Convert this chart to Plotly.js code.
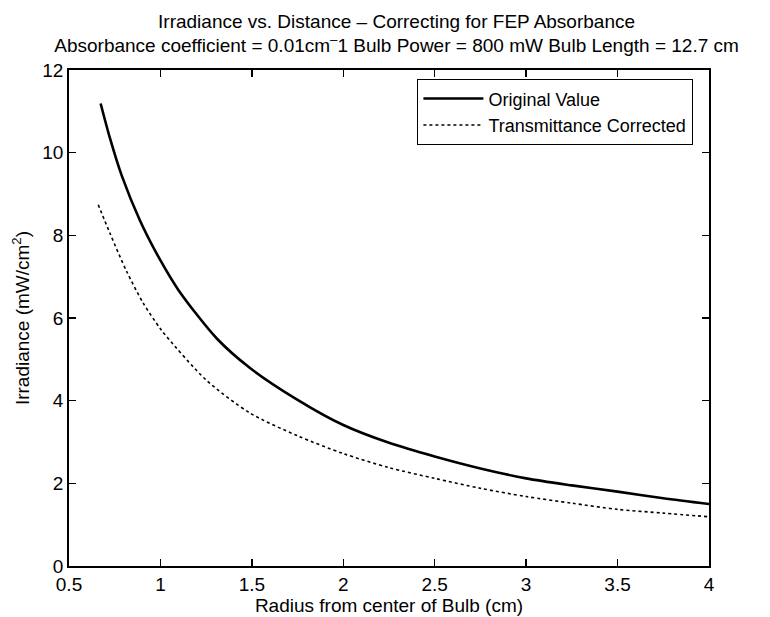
<!DOCTYPE html>
<html>
<head>
<meta charset="utf-8">
<script src="https://cdn.plot.ly/plotly-3.0.1.min.js"></script>
<style>html,body{margin:0;padding:0;background:#fff;}#chart{width:770px;height:617px;}</style>
</head>
<body>
<div id="chart"></div>
<script>
const originalX = [0.673, 0.724, 0.788, 0.888, 0.998, 1.098, 1.307, 1.49, 1.75, 2.0, 2.25, 2.5, 2.75, 3.0, 3.25, 3.5, 3.75, 4.0];
const originalY = [11.19, 10.35, 9.45, 8.36, 7.41, 6.68, 5.51, 4.79, 4.02, 3.41, 2.98, 2.65, 2.36, 2.12, 1.95, 1.80, 1.64, 1.50];
const correctedX = [0.66, 0.724, 0.815, 0.906, 0.998, 1.034, 1.25, 1.49, 1.75, 2.0, 2.25, 2.5, 2.75, 3.0, 3.25, 3.5, 3.75, 4.0];
const correctedY = [8.74, 8.05, 7.13, 6.36, 5.75, 5.55, 4.5, 3.70, 3.15, 2.72, 2.38, 2.12, 1.88, 1.68, 1.52, 1.37, 1.28, 1.19];
const xTicks = [0.5, 1, 1.5, 2, 2.5, 3, 3.5, 4];
const yTicks = [0, 2, 4, 6, 8, 10, 12];

const font = 'Liberation Sans, Arial, sans-serif';
const traces = [
  {x: originalX, y: originalY, name: 'Original Value', mode: 'lines',
   line: {color: '#000', width: 2.6, shape: 'spline', smoothing: 0.8}},
  {x: correctedX, y: correctedY, name: 'Transmittance Corrected', mode: 'lines',
   line: {color: '#000', width: 1.6, dash: 'dot', shape: 'spline', smoothing: 0.8}}
];
const axisCommon = {showline: true, linecolor: '#000', linewidth: 1.8, mirror: 'ticks',
  ticks: 'inside', ticklen: 7, tickcolor: '#000', tickwidth: 1.4, showgrid: false, zeroline: false,
  tickfont: {family: font, size: 19, color: '#000'}};
const layout = {
  width: 770, height: 617,
  margin: {l: 69, r: 61, t: 70, b: 51},
  paper_bgcolor: '#fff', plot_bgcolor: '#fff',
  font: {family: font, color: '#000'},
  title: {text: 'Irradiance vs. Distance \u2013 Correcting for FEP Absorbance<br>Absorbance coefficient = 0.01cm<sup>\u2013</sup>1 Bulb Power = 800 mW Bulb Length = 12.7 cm',
    font: {family: font, size: 19, color: '#000'}, x: 0.515, xref: 'container', xanchor: 'center',
    y: 0.955, yref: 'container', yanchor: 'middle'},
  xaxis: Object.assign({}, axisCommon, {range: [0.5, 4], tickvals: xTicks, ticktext: xTicks.map(String),
    title: {text: 'Radius from center of Bulb (cm)', font: {family: font, size: 19, color: '#000'}, standoff: 0}}),
  yaxis: Object.assign({}, axisCommon, {range: [0, 12], tickvals: yTicks, ticktext: yTicks.map(String),
    title: {text: 'Irradiance (mW/cm<sup>2</sup>)', font: {family: font, size: 19, color: '#000'}, standoff: 8}}),
  showlegend: true,
  legend: {x: 0.975, xanchor: 'right', y: 0.982, yanchor: 'top', bgcolor: '#fff',
    bordercolor: '#000', borderwidth: 1.4, font: {family: font, size: 18, color: '#000'},
    tracegroupgap: 0, itemwidth: 60}
};
Plotly.newPlot('chart', traces, layout, {displayModeBar: false, staticPlot: true});
</script>
</body>
</html>
